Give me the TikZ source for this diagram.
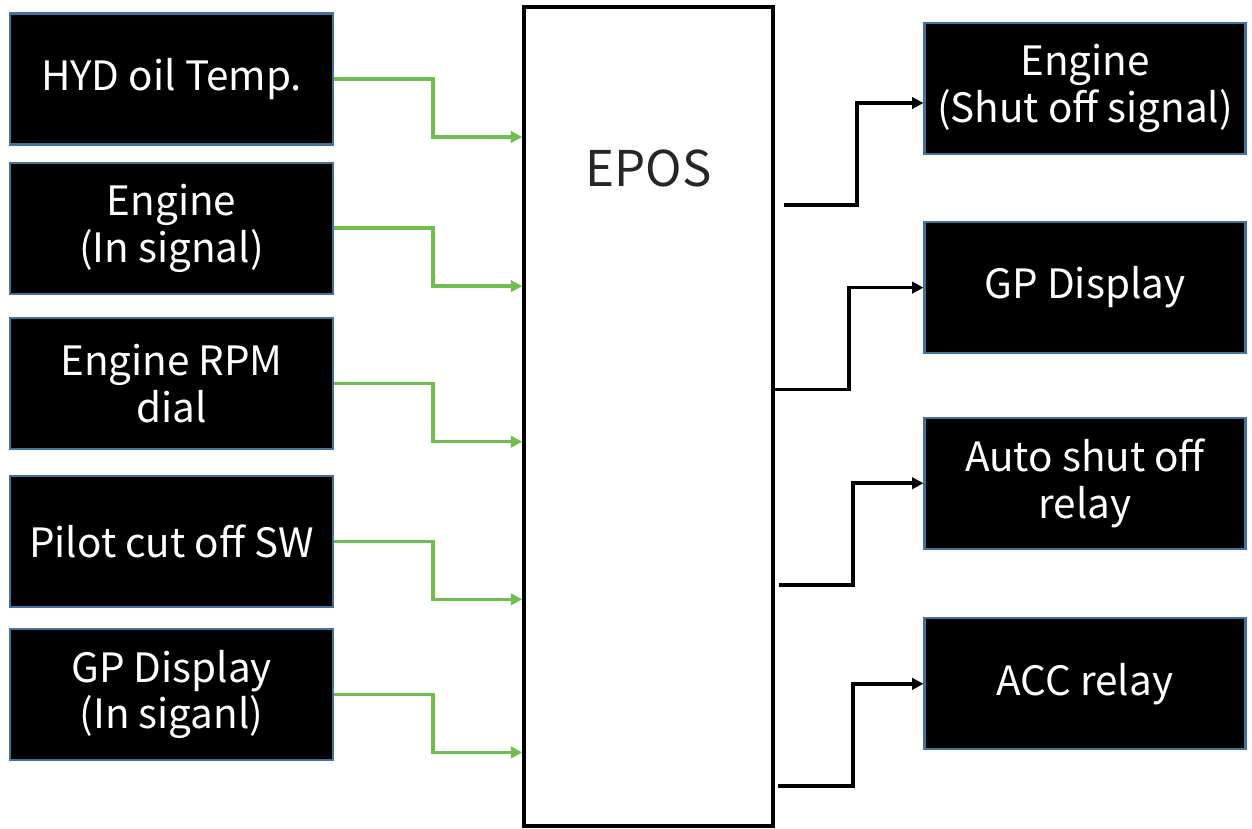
\documentclass[tikz,border=0pt]{standalone}
\usepackage{fontspec}
\setmainfont{Noto Sans CJK KR}
\usepackage{xcolor}
\usepackage{tikz}
\usetikzlibrary{arrows.meta, positioning, calc}

\definecolor{sigin}{RGB}{112,190,80}
\definecolor{boxline}{RGB}{65,113,156}

\begin{document}
\begin{tikzpicture}[
    node distance=0.32cm and 2.5cm,
    box/.style={draw=boxline, line width=1.2pt, rectangle, fill=black, text=white, minimum width=6.46cm, minimum height=2.62cm, align=center, font=\fontsize{23}{26.7}\selectfont},
    outbox/.style={box, minimum width=6.42cm},
    cpu/.style={draw, rectangle, line width=2pt, fill=white, minimum width=4.98cm, minimum height=16.38cm},
    inarrow/.style={-{Triangle[length=6.5pt, width=6.5pt]}, line width=2pt, draw=sigin},
    outarrow/.style={-{Triangle[length=6.5pt, width=6.5pt]}, line width=2pt, draw=black}
]
\useasboundingbox (0,0) rectangle (25.04,-16.56);

% Nodes
\node[cpu] (epos) at (12.97,-8.33) {};
\node[font=\fontsize{28}{32}\selectfont, text=black!85] (eposlabel) at ([yshift=-3.26cm]epos.north) {EPOS};

\node[box] (hyd) at (3.43,-1.58) {HYD oil Temp.};
\node[box, below=0.32cm of hyd] (engin) {Engine\\(In signal)};
\node[box, below=0.45cm of engin] (rpm) {Engine RPM\\dial};
\node[box, below=0.49cm of rpm] (pilot) {Pilot cut off SW};
\node[box, below=0.40cm of pilot] (gpin) {GP Display\\(In siganl)};

\node[outbox] (shut) at (21.70,-1.77) {Engine\\(Shut off signal)};
\node[outbox, below=1.32cm of shut] (gpout) {GP Display};
\node[outbox, below=1.25cm of gpout] (auto) {Auto shut off\\relay};
\node[outbox, below=1.35cm of auto] (acc) {ACC relay};

% Connections
\draw[inarrow] (hyd.east) -- ++(1.98,0) |- ([yshift=-1.16cm]hyd.east -| epos.west);
\draw[inarrow] (engin.east) -- ++(1.98,0) |- ([yshift=-1.16cm]engin.east -| epos.west);
\draw[inarrow] (rpm.east) -- ++(1.98,0) |- ([yshift=-1.16cm]rpm.east -| epos.west);
\draw[inarrow] (pilot.east) -- ++(1.98,0) |- ([yshift=-1.16cm]pilot.east -| epos.west);
\draw[inarrow] (gpin.east) -- ++(1.98,0) |- ([yshift=-1.16cm]gpin.east -| epos.west);

\draw[outarrow] ([xshift=0.18cm, yshift=-2.33cm]shut.west -| epos.east) -- ++(1.46,0) |- ([yshift=-0.29cm]shut.west);
\draw[outarrow] ([yshift=-2.04cm]gpout.west -| epos.east) -- ++(1.48,0) |- (gpout.west);
\draw[outarrow] ([xshift=0.08cm, yshift=-2.04cm]auto.west -| epos.east) -- ++(1.48,0) |- (auto.west);
\draw[outarrow] ([xshift=0.06cm, yshift=-2.04cm]acc.west -| epos.east) -- ++(1.50,0) |- (acc.west);

\end{tikzpicture}
\end{document}
